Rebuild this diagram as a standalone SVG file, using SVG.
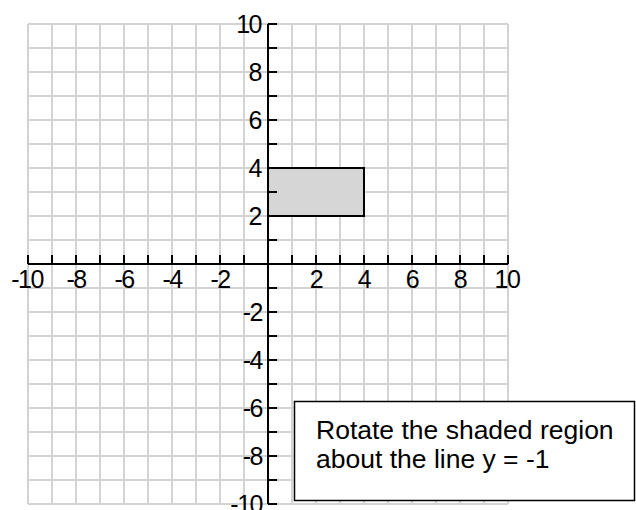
<svg xmlns="http://www.w3.org/2000/svg" width="636" height="510" viewBox="0 0 636 510">
<style>
.grid{stroke:#d3d3d3;stroke-width:2;fill:none}
.axis{stroke:#000;stroke-width:2;fill:none}
.lbl{font-family:"Liberation Sans",Arial,sans-serif;font-size:25px;fill:#000;letter-spacing:-1.5px}
.box{fill:#fff;stroke:#000;stroke-width:1.5}
.txt{font-family:"Liberation Sans",Arial,sans-serif;font-size:26.5px;fill:#000}
</style>
<rect width="636" height="510" fill="#fff"/>
<g id="grid">
<path class="grid" d="M28 24V504M52 24V504M76 24V504M100 24V504M124 24V504M148 24V504M172 24V504M196 24V504M220 24V504M244 24V504M268 24V504M292 24V504M316 24V504M340 24V504M364 24V504M388 24V504M412 24V504M436 24V504M460 24V504M484 24V504M508 24V504"/>
<path class="grid" d="M28 24H508M28 48H508M28 72H508M28 96H508M28 120H508M28 144H508M28 168H508M28 192H508M28 216H508M28 240H508M28 264H508M28 288H508M28 312H508M28 336H508M28 360H508M28 384H508M28 408H508M28 432H508M28 456H508M28 480H508M28 504H508"/>
</g>
<g id="shaded">
<rect x="268" y="168" width="96" height="48" fill="#d6d6d6" stroke="#000" stroke-width="2"/>
</g>
<g id="axes">
<path class="axis" d="M28 264H508M268 24V504"/>
<path class="axis" d="M28 255V264M52 255V264M76 255V264M100 255V264M124 255V264M148 255V264M172 255V264M196 255V264M220 255V264M244 255V264M292 255V264M316 255V264M340 255V264M364 255V264M388 255V264M412 255V264M436 255V264M460 255V264M484 255V264M508 255V264"/>
<path class="axis" d="M268 24H277M268 48H277M268 72H277M268 96H277M268 120H277M268 144H277M268 168H277M268 192H277M268 216H277M268 240H277M268 288H277M268 312H277M268 336H277M268 360H277M268 384H277M268 408H277M268 432H277M268 456H277M268 480H277M268 504H277"/>
</g>
<g id="xlabels" class="lbl" text-anchor="middle">
<text x="27" y="288">-10</text>
<text x="76" y="288">-8</text>
<text x="124" y="288">-6</text>
<text x="172" y="288">-4</text>
<text x="220" y="288">-2</text>
<text x="316" y="288">2</text>
<text x="364" y="288">4</text>
<text x="412" y="288">6</text>
<text x="460" y="288">8</text>
<text x="507" y="288">10</text>
</g>
<g id="ylabels" class="lbl" text-anchor="end">
<text x="261" y="32.5">10</text>
<text x="261" y="80.5">8</text>
<text x="261" y="128.5">6</text>
<text x="261" y="176.5">4</text>
<text x="261" y="224.5">2</text>
<text x="262" y="320.5">-2</text>
<text x="262" y="368.5">-4</text>
<text x="262" y="416.5">-6</text>
<text x="262" y="464.5">-8</text>
<text x="262" y="512.5">-10</text>
</g>
<g id="note">
<rect class="box" x="294.5" y="401.5" width="340" height="99"/>
<text class="txt" x="316" y="439">Rotate the shaded region</text>
<text class="txt" x="316" y="468">about the line y = -1</text>
</g>
</svg>
